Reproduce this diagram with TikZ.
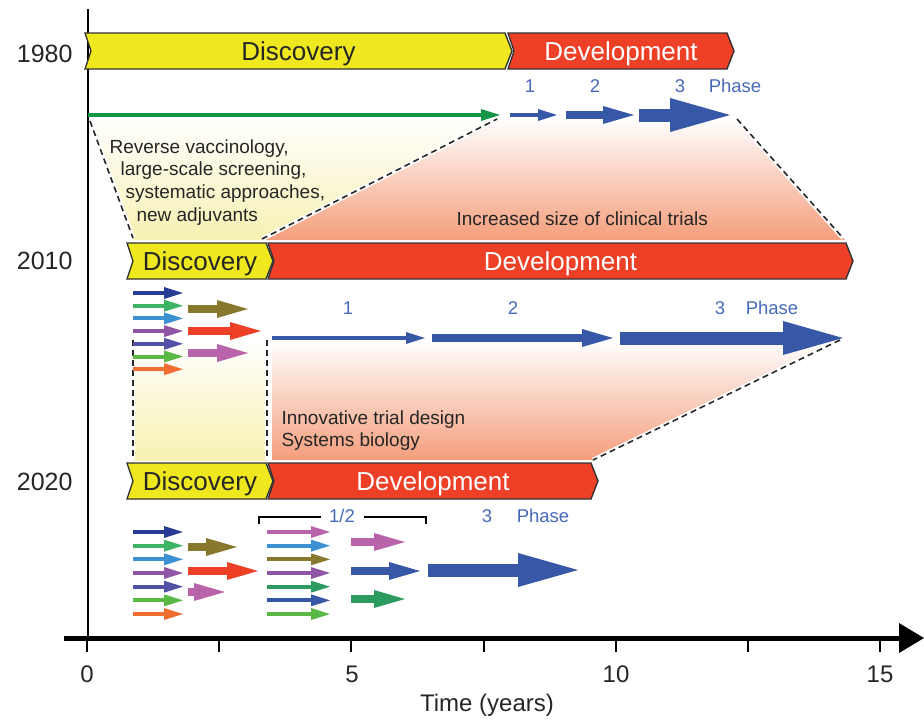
\documentclass[tikz,border=0pt]{standalone}
\usepackage{fontspec}
\setmainfont{Liberation Sans}
\usetikzlibrary{arrows.meta}

\definecolor{discyellow}{RGB}{240,232,30}
\definecolor{devred}{RGB}{238,64,38}
\definecolor{phaseblue}{RGB}{55,87,167}
\definecolor{labelblue}{RGB}{70,105,185}
\definecolor{trialgreen}{RGB}{20,150,70}
\definecolor{paleyellow}{RGB}{247,241,178}
\definecolor{salmon}{RGB}{244,158,124}
%% colours of the candidate arrows
\definecolor{cdarkblue}{RGB}{40,60,150}
\definecolor{cgreen}{RGB}{60,180,100}
\definecolor{clightblue}{RGB}{60,145,210}
\definecolor{cpurple}{RGB}{145,85,165}
\definecolor{cindigo}{RGB}{80,80,165}
\definecolor{clime}{RGB}{90,185,70}
\definecolor{corange}{RGB}{240,110,50}
\definecolor{colive}{RGB}{135,120,45}
\definecolor{cpink}{RGB}{185,100,170}
\definecolor{cteal}{RGB}{45,155,95}

%% one stage bar: x from, x to, y, fill, name, text colour, text
\newcommand{\stagebar}[7]{%
  \filldraw[stagebox,fill=#4] (#1,#3-18) -- (#2-7,#3-18) -- (#2,#3)
    -- (#2-7,#3+18) -- (#1,#3+18) -- (#1+6,#3) -- cycle;
  \node[stagetext,text=#6] (#5) at ({(#1+#2)/2},#3+9) {#7};}

\begin{document}
\begin{tikzpicture}[x=1pt,y=-1pt,
    stagebox/.style={draw=black!80,line width=1.4pt},
    stagetext/.style={font=\fontsize{26}{30}\selectfont,anchor=base},
    yearlabel/.style={font=\fontsize{25}{30}\selectfont,text=black!85,anchor=base east},
    ticklabel/.style={font=\fontsize{24}{28}\selectfont,text=black!85,anchor=base},
    phaselabel/.style={font=\fontsize{18.5}{22}\selectfont,text=labelblue,anchor=base},
    note/.style={font=\fontsize{19}{23}\selectfont,text=black!85,anchor=base west},
    guide/.style={dash pattern=on 6pt off 4pt,line width=1.6pt,black!85,
      preaction={draw=white,solid,line width=4.5pt}},
    thinarrow/.style={line width=4pt,-{Triangle[length=19pt,width=12pt,line width=0pt]}},
    midarrow/.style={line width=7.5pt,-{Triangle[length=31pt,width=18pt,line width=0pt]}},
    fatarrow/.style={line width=13pt,-{Triangle[length=60pt,width=34pt,line width=0pt]}}]
  \useasboundingbox (0,0) rectangle (924,720);

  %% Shaded funnels
  \shade[top color=white,bottom color=paleyellow] (90,118) -- (500,118) -- (262,240) -- (133,240) -- cycle;
  \shade[top color=white,bottom color=salmon] (500,118) -- (737,118) -- (845,240) -- (265,240) -- cycle;
  \shade[top color=white,bottom color=paleyellow] (133,340) rectangle (267,460);
  \shade[top color=white,bottom color=salmon] (272,340) -- (840,340) -- (593,460) -- (272,460) -- cycle;
  \draw[guide] (90,121) -- (133,238);
  \draw[guide] (262,239) -- (497,119);
  \draw[guide] (737,119) -- (843,238);
  \draw[guide] (133,340) -- (133,460);
  \draw[guide] (267,340) -- (267,460);
  \draw[guide] (840,340) -- (593,460);

  %% Axes
  \draw[line width=2.5pt] (88,9) -- (88,638);
  \draw[line width=5pt,-{Triangle[length=25pt,width=30pt,line width=0pt]}] (64,638) -- (924,638);
  \foreach \t in {0,...,6}
    \draw[line width=2pt] (87+132.2*\t,638) -- (87+132.2*\t,652);
  \foreach \v/\x in {0/87,5/352,10/616,15/880}
    \node[ticklabel] (t\v) at (\x,682) {\v};
  \node[ticklabel] (time) at (487,711) {Time (years)};

  %% Years
  \node[yearlabel] (y1980) at (76,62) {1980};
  \node[yearlabel] (y2010) at (76,269) {2010};
  \node[yearlabel] (y2020) at (76,490) {2020};

  %% Stage bars
  \stagebar{85}{512}{51}{discyellow}{disc1980}{black!85}{Discovery}
  \stagebar{508}{734}{51}{devred}{dev1980}{white}{Development}
  \stagebar{127}{273}{261}{discyellow}{disc2010}{black!85}{Discovery}
  \stagebar{268}{853}{261}{devred}{dev2010}{white}{Development}
  \stagebar{127}{273}{481}{discyellow}{disc2020}{black!85}{Discovery}
  \stagebar{268}{598}{481}{devred}{dev2020}{white}{Development}

  %% 1980 trials
  \draw[thinarrow,trialgreen] (88,115) -- (500,115);
  \draw[thinarrow,phaseblue] (510,115) -- (557,115);
  \draw[midarrow,phaseblue] (566,115) -- (634,115);
  \draw[fatarrow,phaseblue] (639,115) -- (730,115);
  \node[phaselabel] (p1a) at (530,92) {1};
  \node[phaselabel] (p2a) at (595,92) {2};
  \node[phaselabel] (p3a) at (680,92) {3};
  \node[phaselabel] (pha) at (735,92) {Phase};
  \node[note] (rv1) at (106,153) {Reverse vaccinology,};
  \node[note] (rv2) at (117,175) {large-scale screening,};
  \node[note] (rv3) at (122,198) {systematic approaches,};
  \node[note] (rv4) at (133,221) {new adjuvants};
  \node[note] (size) at (453,225) {Increased size of clinical trials};

  %% 2010 trials
  \foreach \c [count=\i from 0] in {cdarkblue,cgreen,clightblue,cpurple,cindigo,clime,corange}
    \draw[thinarrow,\c] (133,293+12.7*\i) -- (183,293+12.7*\i);
  \draw[midarrow,colive] (188,309) -- (248,309);
  \draw[midarrow,devred] (188,331) -- (261,331);
  \draw[midarrow,cpink] (188,353) -- (248,353);
  \draw[thinarrow,phaseblue] (272,338) -- (425,338);
  \draw[midarrow,phaseblue] (432,338) -- (613,338);
  \draw[fatarrow,phaseblue] (620,338) -- (843,338);
  \node[phaselabel] (p1b) at (348,314) {1};
  \node[phaselabel] (p2b) at (513,314) {2};
  \node[phaselabel] (p3b) at (720,314) {3};
  \node[phaselabel] (phb) at (772,314) {Phase};
  \node[note] (itd) at (278,424) {Innovative trial design};
  \node[note] (sb) at (278,446) {Systems biology};

  %% 2020 trials
  \foreach \c [count=\i from 0] in {cdarkblue,cgreen,clightblue,cpurple,cindigo,clime,corange}
    \draw[thinarrow,\c] (133,532+13.67*\i) -- (183,532+13.67*\i);
  \draw[midarrow,colive] (188,547) -- (237,547);
  \draw[midarrow,devred] (188,571) -- (258,571);
  \draw[midarrow,cpink] (188,592) -- (225,592);
  \foreach \c [count=\i from 0] in {cpink,clightblue,colive,cpurple,cteal,phaseblue,clime}
    \draw[thinarrow,\c] (267,532+13.67*\i) -- (330,532+13.67*\i);
  \draw[midarrow,cpink] (351,542) -- (405,542);
  \draw[midarrow,phaseblue] (351,571) -- (420,571);
  \draw[midarrow,cteal] (351,599) -- (405,599);
  \draw[fatarrow,phaseblue] (428,570) -- (578,570);
  \node[phaselabel] (p12c) at (342,522) {1/2};
  \node[phaselabel] (p3c) at (487,522) {3};
  \node[phaselabel] (phc) at (543,522) {Phase};
  \draw[line width=1.8pt] (259,524) -- (259,517) -- (321,517);
  \draw[line width=1.8pt] (364,517) -- (426,517) -- (426,524);
\end{tikzpicture}
\end{document}
